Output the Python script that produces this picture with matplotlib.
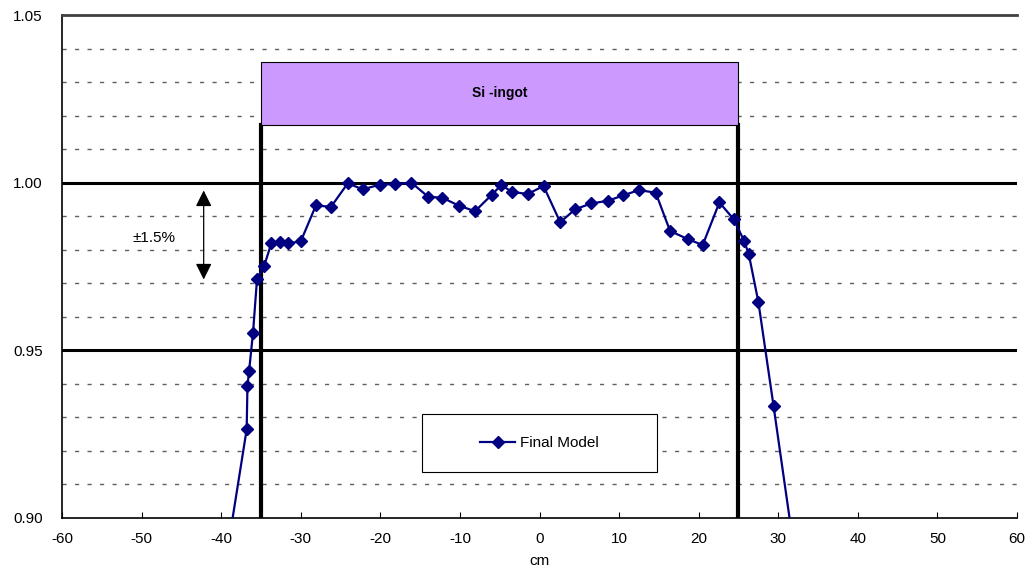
"""Si-ingot profile: Final Model vs position (cm)."""
import matplotlib
matplotlib.use('Agg')
import matplotlib.pyplot as plt
from matplotlib.patches import Rectangle

plt.rcParams['font.family'] = ['Liberation Sans', 'DejaVu Sans']
plt.rcParams['axes.unicode_minus'] = False

# data
x_cm = [-40.5, -36.8, -36.7, -36.5, -36.0, -35.5, -34.6, -33.7, -32.6, -31.6, -30.0,
        -28.1, -26.2, -24.1, -22.2, -20.1, -18.1, -16.1, -14.0, -12.2, -10.1,
        -8.1, -6.0, -4.8, -3.5, -1.5, 0.5, 2.6, 4.5, 6.5, 8.6, 10.5, 12.5,
        14.6, 16.4, 18.6, 20.5, 22.6, 24.4, 25.7, 26.3, 27.5, 29.4, 33.4]
final_model = [0.871, 0.9264, 0.9394, 0.9437, 0.9553, 0.9712, 0.9752, 0.9819, 0.9823,
               0.9819, 0.9825, 0.9932, 0.9928, 0.9998, 0.9980, 0.9994, 0.9996, 1.0000,
               0.9958, 0.9955, 0.9931, 0.9915, 0.9964, 0.9993, 0.9973, 0.9966, 0.9990,
               0.9882, 0.9921, 0.9938, 0.9946, 0.9962, 0.9978, 0.9970, 0.9856, 0.9832,
               0.9814, 0.9941, 0.9891, 0.9827, 0.9786, 0.9644, 0.9335, 0.867]

ingot_left, ingot_right = -35, 25
x_ticks = list(range(-60, 61, 10))
y_ticks = [0.90, 0.95, 1.00, 1.05]

fig = plt.figure(figsize=(10.32, 5.73), dpi=100)
ax = fig.add_axes([0.0601, 0.096, 0.9254, 0.8778])

# minor dashed grid every 0.01, solid at 0.95 / 1.00
for yv in [0.91, 0.92, 0.93, 0.94, 0.96, 0.97, 0.98, 0.99, 1.01, 1.02, 1.03, 1.04]:
    ax.axhline(yv, color='#606060', lw=1.0, ls=(0, (3, 6)), zorder=1)
for yv in [0.95, 1.00]:
    ax.axhline(yv, color='black', lw=2.2, zorder=2)

# ingot edges and label box
ax.plot([ingot_left, ingot_left], [0.90, 1.0172], color='black', lw=3, zorder=3)
ax.plot([ingot_right, ingot_right], [0.90, 1.0172], color='black', lw=3, zorder=3)
ax.add_patch(Rectangle((ingot_left, 1.0172), ingot_right - ingot_left, 1.036 - 1.0172,
                       facecolor='#cc99ff', edgecolor='black', lw=0.8, zorder=3))
ax.text((ingot_left + ingot_right) / 2, 1.0266, 'Si -ingot', ha='center', va='center',
        fontsize=10, weight='bold', zorder=4)

ax.plot(x_cm, final_model, color='#000080', lw=1.6, marker='D', ms=6.5,
        label='Final Model', zorder=5)

# +-1.5% arrow
ax.annotate('', xy=(-42.2, 0.9703), xytext=(-42.2, 0.9985),
            arrowprops=dict(arrowstyle='<|-|>,head_length=0.7,head_width=0.35',
                            color='black', lw=0.9, mutation_scale=14), zorder=4)
ax.text(-48.5, 0.9835, '±1.5%', ha='center', va='center', fontsize=11)

ax.set_xlim(-60, 60)
ax.set_ylim(0.90, 1.05)
ax.set_xticks(x_ticks)
ax.set_yticks(y_ticks)
ax.set_yticklabels([f'{v:.2f}' for v in y_ticks])
ax.tick_params(axis='x', labelsize=11, direction='in', length=4, width=0.8, pad=10)
ax.tick_params(axis='y', labelsize=11, length=0, pad=14)
ax.set_xlabel('cm', fontsize=11, labelpad=6)

ax.spines['right'].set_visible(False)
ax.spines['top'].set_color('#404040')
ax.spines['top'].set_linewidth(2)
ax.spines['left'].set_linewidth(1.2)
ax.spines['bottom'].set_linewidth(1.2)

# legend box
ax.add_patch(Rectangle((0.377, 0.0915), 0.246, 0.115, transform=ax.transAxes,
                       facecolor='white', edgecolor='black', lw=0.8, zorder=6))
leg = ax.legend(loc='center', bbox_to_anchor=(0.377 + 0.123, 0.0915 + 0.0575),
                fontsize=11, frameon=False, handlelength=2.3, handletextpad=0.3,
                markerscale=0.9)
leg.set_zorder(7)

plt.savefig('out.png', dpi=100)
